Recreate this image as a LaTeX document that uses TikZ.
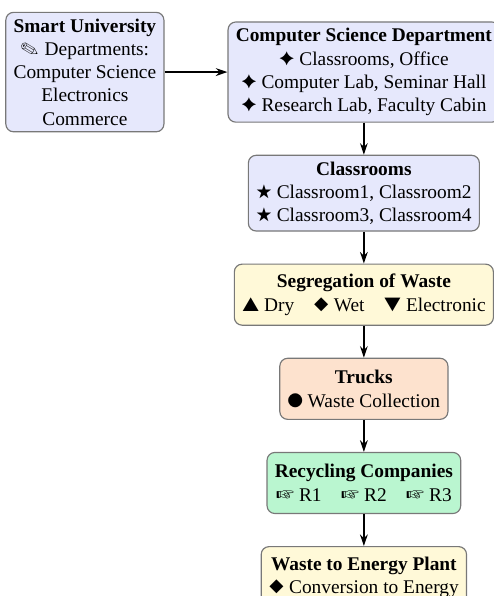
\documentclass[tikz,border=0pt]{standalone}
\usepackage{fontspec}
\setmainfont{Liberation Serif}
\usepackage{pifont}
\definecolor{gris}{RGB}{120,120,120}
\definecolor{lavanda}{RGB}{230,232,252}
\definecolor{crema}{RGB}{255,249,216}
\definecolor{durazno}{RGB}{253,226,206}
\definecolor{menta}{RGB}{186,246,208}
\usetikzlibrary{positioning,arrows.meta}

\begin{document}
\begin{tikzpicture}[
    node distance=16.5pt,
    bloque/.style={rectangle, draw=gris, semithick, rounded corners=4pt,
      align=center, inner xsep=4pt, inner ysep=3.3pt, minimum height=31.5pt},
    >={Stealth[length=6pt,width=4pt]}
  ]
    \useasboundingbox (-187.8pt,37.2pt) rectangle (67.1pt,-270.4pt);

    \node[bloque, fill=lavanda] (cs) at (0,0) {\textbf{Computer Science Department}\\
      \ding{70} Classrooms, Office\\
      \ding{70} Computer Lab, Seminar Hall\\
      \ding{70} Research Lab, Faculty Cabin};
    \node[bloque, fill=lavanda, left=32.5pt of cs] (uni) {\textbf{Smart University}\\
      \ding{46} Departments:\\ Computer Science\\ Electronics\\ Commerce};
    \node[bloque, fill=lavanda, below=of cs] (aulas) {\textbf{Classrooms}\\
      \ding{72} Classroom1, Classroom2\\
      \ding{72} Classroom3, Classroom4};
    \node[bloque, fill=crema, below=of aulas] (residuos) {\textbf{Segregation of Waste}\\
      \ding{115} Dry\quad \ding{117} Wet\quad \ding{116} Electronic};
    \node[bloque, fill=durazno, below=of residuos] (camiones) {\textbf{Trucks}\\
      \ding{108} Waste Collection};
    \node[bloque, fill=menta, below=of camiones] (reciclaje) {\textbf{Recycling Companies}\\
      \ding{43} R1\quad \ding{43} R2\quad \ding{43} R3};
    \node[bloque, fill=crema, below=of reciclaje] (energia) {\textbf{Waste to Energy Plant}\\
      \ding{117} Conversion to Energy};

    \draw[thick, ->] (uni) -- (cs);
    \draw[thick, ->] (cs) -- (aulas);
    \draw[thick, ->] (aulas) -- (residuos);
    \draw[thick, ->] (residuos) -- (camiones);
    \draw[thick, ->] (camiones) -- (reciclaje);
    \draw[thick, ->] (reciclaje) -- (energia);
  \end{tikzpicture}
\end{document}
